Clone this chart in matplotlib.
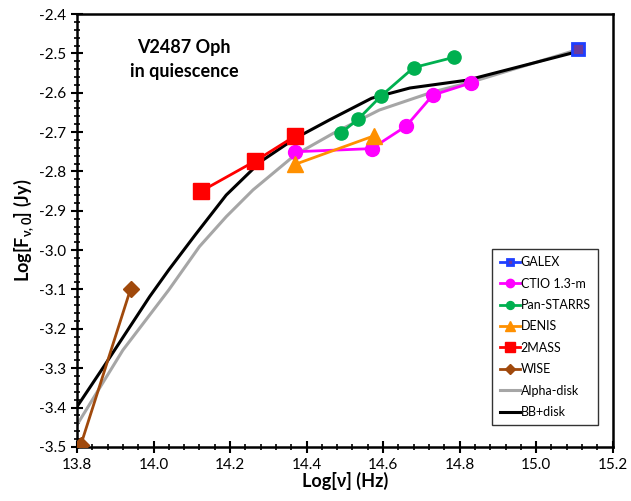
import matplotlib
matplotlib.use("Agg")
import matplotlib.pyplot as plt
from matplotlib.ticker import MultipleLocator, FormatStrFormatter

plt.rcParams['font.family'] = ['Lato', 'DejaVu Sans']

# data
galex_x = [15.11]
galex_y = [-2.49]

ctio_x = [14.37, 14.57, 14.66, 14.73, 14.83]
ctio_y = [-2.75, -2.742, -2.685, -2.606, -2.575]

ps_x = [14.49, 14.535, 14.595, 14.68, 14.785]
ps_y = [-2.702, -2.667, -2.608, -2.536, -2.51]

denis_x = [14.37, 14.575]
denis_y = [-2.782, -2.71]

tmass_x = [14.125, 14.265, 14.37]
tmass_y = [-2.85, -2.774, -2.71]

wise_x = [13.81, 13.94]
wise_y = [-3.495, -3.099]

alpha_x = [13.80, 13.92, 14.04, 14.12, 14.19, 14.26, 14.37, 14.47, 14.59, 14.73, 14.83, 15.11]
alpha_y = [-3.444, -3.254, -3.101, -2.991, -2.915, -2.847, -2.758, -2.703, -2.644, -2.598, -2.573, -2.49]

bb_x = [13.80, 13.87, 13.99, 14.04, 14.11, 14.19, 14.28, 14.37, 14.46, 14.57, 14.67, 14.82, 15.11]
bb_y = [-3.398, -3.296, -3.118, -3.050, -2.960, -2.860, -2.775, -2.716, -2.669, -2.614, -2.588, -2.568, -2.495]

fig = plt.figure(figsize=(6.31, 5.01), dpi=100)
ax = fig.add_axes([0.122, 0.108, 0.849, 0.864])

ax.plot(alpha_x, alpha_y, color='#a6a6a6', lw=2.2, label='Alpha-disk', zorder=2)
ax.plot(bb_x, bb_y, color='black', lw=2.2, label='BB+disk', zorder=3)
ax.plot(galex_x, galex_y, color='#1f3fff', lw=2, marker='s', ms=8,
        mfc='#6a3aa0', mec='#1f3fff', mew=2, label='GALEX', zorder=4)
ax.plot(ctio_x, ctio_y, color='#ff00ff', lw=2, marker='o', ms=10, label='CTIO 1.3-m', zorder=4)
ax.plot(ps_x, ps_y, color='#00b050', lw=2, marker='o', ms=9.5, label='Pan-STARRS', zorder=4)
ax.plot(denis_x, denis_y, color='#ff9000', lw=2, marker='^', ms=11, label='DENIS', zorder=4)
ax.plot(tmass_x, tmass_y, color='#ff0000', lw=2, marker='s', ms=11, label='2MASS', zorder=4)
ax.plot(wise_x, wise_y, color='#a0490c', lw=2, marker='D', ms=8.5, label='WISE', zorder=4)

ax.set_xlim(13.8, 15.2)
ax.set_ylim(-3.5, -2.4)
ax.xaxis.set_major_locator(MultipleLocator(0.2))
ax.xaxis.set_minor_locator(MultipleLocator(0.04))
ax.yaxis.set_major_locator(MultipleLocator(0.1))
ax.yaxis.set_minor_locator(MultipleLocator(0.02))
ax.xaxis.set_major_formatter(FormatStrFormatter('%.1f'))
ax.yaxis.set_major_formatter(FormatStrFormatter('%.1f'))
ax.tick_params(which='major', direction='inout', length=8, width=1.5, labelsize=11, pad=4)
ax.tick_params(which='minor', direction='inout', length=4, width=1.2)
ax.tick_params(top=False, right=False)
for s in ax.spines.values():
    s.set_linewidth(1.8)

ax.set_xlabel('Log[ν] (Hz)', fontsize=13, fontweight='bold', labelpad=0)
ax.set_ylabel('Log[F$_{\\mathregular{ν,0}}$] (Jy)', fontsize=13, fontweight='bold', labelpad=2)

ax.text(0.2, 0.895, 'V2487 Oph\nin quiescence', transform=ax.transAxes,
        ha='center', va='center', fontsize=13, fontweight='bold', linespacing=1.5)

h, l = ax.get_legend_handles_labels()
order = ['GALEX', 'CTIO 1.3-m', 'Pan-STARRS', 'DENIS', '2MASS', 'WISE', 'Alpha-disk', 'BB+disk']
hl = dict(zip(l, h))
leg = ax.legend([hl[k] for k in order], order, loc='lower right',
                bbox_to_anchor=(0.985, 0.035), fontsize=9, markerscale=0.6,
                handlelength=1.6, handletextpad=0.1, labelspacing=0.75,
                frameon=True, fancybox=False, borderpad=0.6)
leg.get_frame().set_edgecolor('black')
leg.get_frame().set_linewidth(1)

fig.savefig('out.png', dpi=100)
